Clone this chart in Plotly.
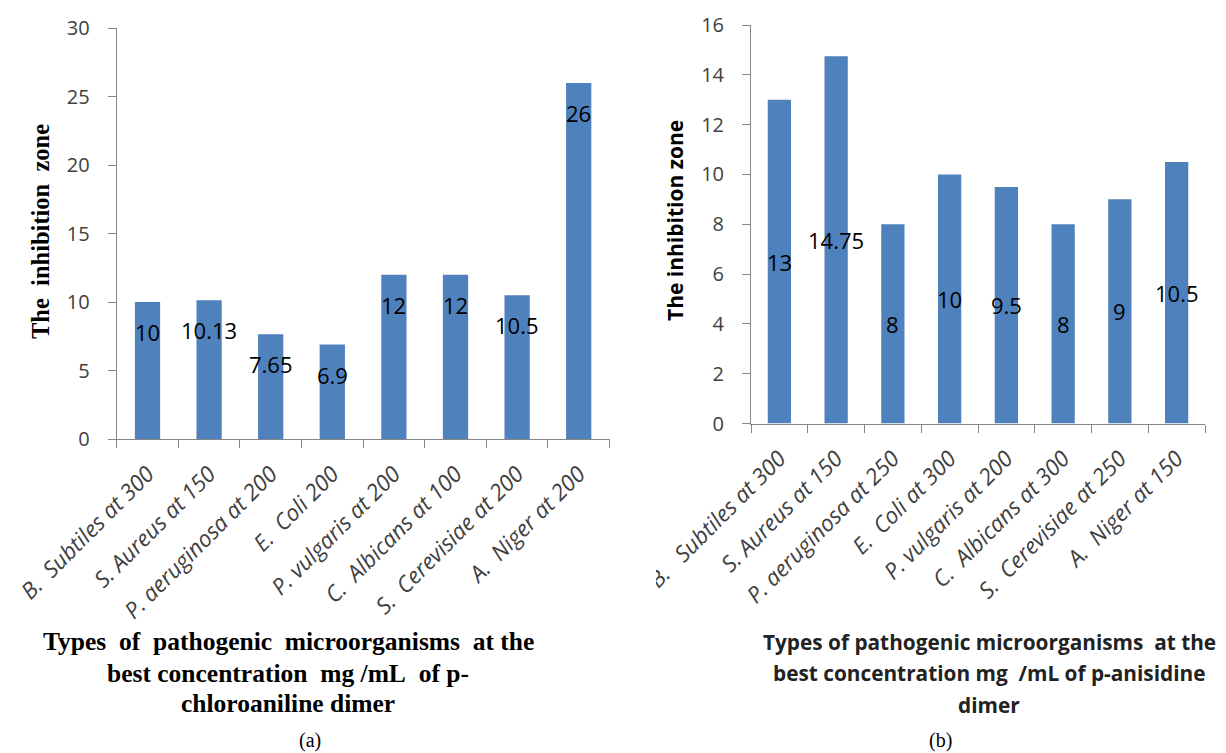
import plotly.graph_objects as go

# ---------------- data ----------------
cats_a = ["B.\u00a0 Subtiles at 300", "S. Aureus at 150", "P. aeruginosa at 200", "E.\u00a0 Coli 200",
          "P. vulgaris at 200", "C.\u00a0 Albicans at 100", "S.\u00a0 Cerevisiae at 200", "A.\u00a0 Niger at 200"]
vals_a = [10, 10.13, 7.65, 6.9, 12, 12, 10.5, 26]
labels_a = ["10", "10.13", "7.65", "6.9", "12", "12", "10.5", "26"]

cats_b = ["B.\u00a0\u00a0 Subtiles at 300", "S. Aureus at 150", "P. aeruginosa at 250", "E.\u00a0 Coli at 300",
          "P. vulgaris at 200", "C.\u00a0 Albicans at 300", "S.\u00a0 Cerevisiae at 250", "A.\u00a0 Niger at 150"]
vals_b = [13, 14.75, 8, 10, 9.5, 8, 9, 10.5]
labels_b = ["13", "14.75", "8", "10", "9.5", "8", "9", "10.5"]

yticks_a = [0, 5, 10, 15, 20, 25, 30]
yticks_b = [0, 2, 4, 6, 8, 10, 12, 14, 16]

title_a = ["Types\u00a0 of\u00a0 pathogenic\u00a0 microorganisms\u00a0 at the",
           "best concentration\u00a0 mg /mL\u00a0 of p-",
           "chloroaniline dimer"]
title_b = ["Types of pathogenic microorganisms\u00a0 at the",
           "best concentration mg\u00a0 /mL of p-anisidine",
           "dimer"]
ytitle = "The\u00a0 inhibition\u00a0 zone"

# ---------------- style ----------------
OFF = 8                      # page body margin in the browser
W, H = 1226 - OFF, 753 - OFF
SANS = "Open Sans"
SERIF = "Liberation Serif"
BAR = "#4F81BD"
AX = "#868686"
TXT = "#404040"


def px_x(p):
    return (p - OFF) / W


def px_y(p):
    return 1 - (p - OFF) / H


fig = go.Figure()
fig.add_trace(go.Bar(x=cats_a, y=vals_a, marker=dict(color=BAR, line=dict(width=0)),
                     xaxis="x", yaxis="y", showlegend=False, hoverinfo="x+y"))
fig.add_trace(go.Bar(x=cats_b, y=vals_b, marker=dict(color=BAR, line=dict(width=0)),
                     xaxis="x2", yaxis="y2", showlegend=False, hoverinfo="x+y"))

common_x = dict(type="category", range=[-0.5, 7.5], showline=True, linecolor=AX, linewidth=1,
                ticks="outside", tickson="boundaries", ticklen=8, tickcolor=AX, tickwidth=1,
                tickangle=-45, showgrid=False, zeroline=False, automargin=False,
                ticklabelstandoff=12,
                tickfont=dict(family=SANS, size=22.5, color=TXT, style="italic"))
common_y = dict(showline=True, linecolor=AX, linewidth=1, ticks="outside", ticklen=8,
                tickcolor=AX, tickwidth=1, showgrid=False, zeroline=False, automargin=False,
                tickfont=dict(family=SANS, size=20, color=TXT), ticklabelstandoff=14)

fig.update_layout(
    width=W, height=H, margin=dict(l=0, r=0, t=0, b=0, autoexpand=False),
    paper_bgcolor="white", plot_bgcolor="white", bargap=0.59,
    xaxis=dict(domain=[px_x(116.7), px_x(609.5)], anchor="y", **common_x),
    yaxis=dict(domain=[px_y(439), px_y(28.3)], anchor="x", range=[0, 30],
               tickvals=yticks_a, **common_y),
    xaxis2=dict(domain=[px_x(751), px_x(1205)], anchor="y2", **common_x),
    yaxis2=dict(domain=[px_y(423.5), px_y(25)], anchor="x2", range=[0, 16],
                tickvals=yticks_b, **common_y),
)

ann = []
# data labels (a): near the top inside the bar
for c, v, t in zip(cats_a, vals_a, labels_a):
    ann.append(dict(x=c, y=v, xref="x", yref="y", text=t, showarrow=False,
                    yanchor="middle", yshift=-30,
                    font=dict(family=SANS, size=22, color="black")))
# data labels (b): centered in the bar
for c, v, t in zip(cats_b, vals_b, labels_b):
    ann.append(dict(x=c, y=v / 2, xref="x2", yref="y2", text=t, showarrow=False,
                    yanchor="middle", font=dict(family=SANS, size=22, color="black")))

# y axis titles
ann.append(dict(x=px_x(41), y=px_y(232), xref="paper", yref="paper", text=ytitle, textangle=-90,
                showarrow=False, xanchor="center", yanchor="middle",
                font=dict(family=SERIF, size=24.5, color="black", weight="bold")))
ann.append(dict(x=px_x(675), y=px_y(221), xref="paper", yref="paper", text=ytitle.replace("\u00a0", ""),
                textangle=-90, showarrow=False, xanchor="center", yanchor="middle",
                font=dict(family=SANS, size=21, color="black", weight="bold")))

# x axis titles
for line, yp in zip(title_a, [641.7, 673.5, 703]):
    ann.append(dict(x=px_x(288), y=px_y(yp), xref="paper", yref="paper", text=line, showarrow=False,
                    xanchor="center", yanchor="middle",
                    font=dict(family=SERIF, size=25.5, color="black", weight="bold")))
for line, yp in zip(title_b, [641.7, 673, 705]):
    ann.append(dict(x=px_x(989), y=px_y(yp), xref="paper", yref="paper", text=line, showarrow=False,
                    xanchor="center", yanchor="middle",
                    font=dict(family=SANS, size=20.8, color="#222", weight="bold")))

# panel captions
ann.append(dict(x=px_x(310), y=px_y(740), xref="paper", yref="paper", text="(a)", showarrow=False,
                xanchor="center", yanchor="middle", font=dict(family=SERIF, size=20, color="black")))
ann.append(dict(x=px_x(940), y=px_y(740), xref="paper", yref="paper", text="(b)", showarrow=False,
                xanchor="center", yanchor="middle", font=dict(family=SERIF, size=20, color="black")))

fig.update_layout(annotations=ann)

# right panel's chart area edge clips its first category label
fig.add_shape(type="rect", xref="paper", yref="paper", x0=px_x(612), x1=px_x(656),
              y0=px_y(620), y1=px_y(450), fillcolor="white", line=dict(width=0), layer="above")

fig.write_html("out.html")
